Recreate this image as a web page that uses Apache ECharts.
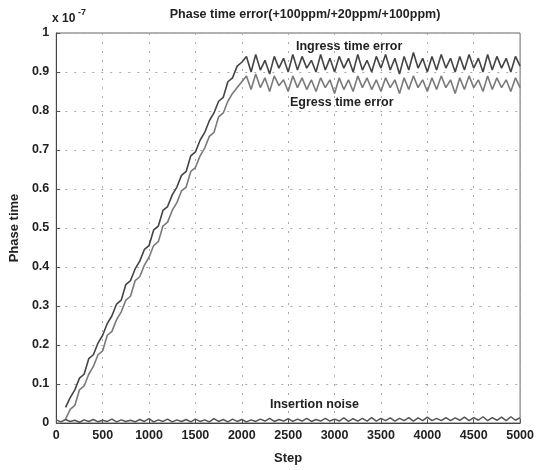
<!DOCTYPE html>
<html>
<head>
<meta charset="utf-8">
<script src="https://cdn.jsdelivr.net/npm/echarts@6/dist/echarts.min.js"></script>
<style>html,body{margin:0;padding:0;background:#fff}#c{width:537px;height:470px}</style>
</head>
<body>
<div id="c"></div>
<script>
// x positions: steps 0..5000 every 50
var stepStart = 0, stepSize = 50, stepCount = 101;
var xTicks = ['0','500','1000','1500','2000','2500','3000','3500','4000','4500','5000'];
var yTicks = ['0','0.1','0.2','0.3','0.4','0.5','0.6','0.7','0.8','0.9','1'];

var ingress = [null, null,
 0.04,0.065,0.085,0.115,0.125,0.165,0.175,0.205,0.225,0.255,
 0.275,0.305,0.315,0.355,0.365,0.395,0.415,0.445,0.455,0.495,
 0.505,0.545,0.555,0.585,0.605,0.635,0.645,0.685,0.695,0.725,
 0.745,0.775,0.795,0.825,0.835,0.875,0.885,0.915,0.925,
 0.94,0.90,0.945,0.905,0.93,0.895,0.94,0.91,0.935,0.90,
 0.945,0.905,0.94,0.91,0.93,0.90,0.945,0.905,0.935,0.90,
 0.94,0.91,0.935,0.90,0.945,0.905,0.93,0.90,0.94,0.91,
 0.945,0.905,0.935,0.895,0.94,0.905,0.95,0.91,0.935,0.90,
 0.94,0.905,0.945,0.91,0.935,0.90,0.94,0.905,0.945,0.91,
 0.935,0.90,0.945,0.905,0.94,0.91,0.935,0.90,0.94,0.915];

var egress = [null, null,
 0.01,0.035,0.045,0.085,0.095,0.125,0.145,0.175,0.185,0.225,
 0.235,0.265,0.285,0.315,0.325,0.365,0.375,0.405,0.425,0.455,
 0.465,0.505,0.515,0.545,0.565,0.595,0.605,0.645,0.655,0.685,
 0.705,0.735,0.745,0.785,0.795,0.825,0.845,0.86,0.875,
 0.89,0.855,0.895,0.86,0.885,0.85,0.89,0.865,0.88,0.85,
 0.89,0.86,0.885,0.855,0.88,0.85,0.885,0.86,0.88,0.845,
 0.885,0.855,0.88,0.85,0.89,0.86,0.885,0.855,0.88,0.85,
 0.885,0.86,0.88,0.845,0.885,0.855,0.89,0.86,0.88,0.85,
 0.885,0.855,0.89,0.86,0.88,0.845,0.885,0.855,0.89,0.86,
 0.88,0.85,0.89,0.855,0.885,0.86,0.88,0.85,0.885,0.86];

var noise = [
 0.008,0.003,0.009,0.004,0.007,0.002,0.008,0.004,0.009,0.003,
 0.007,0.004,0.010,0.003,0.008,0.004,0.007,0.003,0.009,0.004,
 0.011,0.003,0.008,0.004,0.010,0.003,0.008,0.004,0.009,0.003,
 0.010,0.004,0.008,0.003,0.011,0.004,0.009,0.003,0.010,0.004,
 0.009,0.003,0.008,0.004,0.010,0.005,0.012,0.004,0.009,0.005,
 0.011,0.004,0.010,0.005,0.012,0.004,0.009,0.005,0.012,0.005,
 0.010,0.005,0.013,0.004,0.011,0.005,0.012,0.005,0.014,0.005,
 0.012,0.006,0.013,0.005,0.012,0.006,0.014,0.005,0.013,0.006,
 0.015,0.006,0.012,0.006,0.014,0.006,0.013,0.007,0.015,0.006,
 0.014,0.007,0.016,0.006,0.014,0.007,0.015,0.006,0.016,0.007,
 0.014];

function pairs(arr){
  var out=[];
  for(var i=0;i<arr.length;i++){ if(arr[i]!==null) out.push([stepStart+i*stepSize, arr[i]]); }
  return out;
}

var chart = echarts.init(document.getElementById('c'));
var font = 'Liberation Sans, Arial, sans-serif';
chart.setOption({
  backgroundColor:'#fff',
  animation:false,
  title:{text:'Phase time error(+100ppm/+20ppm/+100ppm)', left:300, top:3, textAlign:'center',
    textStyle:{fontFamily:font, fontSize:12.5, fontWeight:'bold', color:'#222'}},
  grid:{left:54, right:16, top:33, bottom:47, show:true, borderColor:'#666', borderWidth:1},
  xAxis:{type:'value', min:0, max:5000, interval:500, name:'Step', nameLocation:'middle', nameGap:29,
    nameTextStyle:{fontFamily:font, fontSize:13, fontWeight:'bold', color:'#222'},
    axisLine:{lineStyle:{color:'#444'}}, axisTick:{inside:true, length:4, lineStyle:{color:'#555'}},
    axisLabel:{fontFamily:font, fontSize:12.5, fontWeight:'bold', color:'#222', margin:6,
      formatter:function(v){return xTicks[Math.round(v/500)];}},
    splitLine:{show:true, lineStyle:{color:'#aaa', type:[2,7], width:1}}},
  yAxis:{type:'value', min:0, max:1, interval:0.1, name:'Phase time', nameLocation:'middle', nameGap:31,
    nameTextStyle:{fontFamily:font, fontSize:13, fontWeight:'bold', color:'#222'},
    axisLine:{lineStyle:{color:'#444'}}, axisTick:{inside:true, length:4, lineStyle:{color:'#555'}},
    axisLabel:{fontFamily:font, fontSize:12.5, fontWeight:'bold', color:'#222', margin:7,
      formatter:function(v){return yTicks[Math.round(v*10)];}},
    splitLine:{show:true, lineStyle:{color:'#aaa', type:[2,7], width:1}}},
  graphic:[
    {type:'text', left:52, top:13, style:{text:'x 10', fontFamily:font, fontSize:12, fontWeight:'bold', fill:'#222'}},
    {type:'text', left:78, top:8, style:{text:'-7', fontFamily:font, fontSize:9, fontWeight:'bold', fill:'#222'}},
    {type:'text', left:296, top:40, style:{text:'Ingress time error', fontFamily:font, fontSize:12.5, fontWeight:'bold', fill:'#222'}},
    {type:'text', left:290, top:96, style:{text:'Egress time error', fontFamily:font, fontSize:12.5, fontWeight:'bold', fill:'#222'}},
    {type:'text', left:270, top:398, style:{text:'Insertion noise', fontFamily:font, fontSize:12.5, fontWeight:'bold', fill:'#222'}}
  ],
  series:[
    {type:'line', data:pairs(egress), symbol:'none', lineStyle:{color:'#7a7a7a', width:1.6}, z:2},
    {type:'line', data:pairs(ingress), symbol:'none', lineStyle:{color:'#444', width:1.6}, z:3},
    {type:'line', data:pairs(noise), symbol:'none', lineStyle:{color:'#555', width:1.5}, z:3}
  ]
});
</script>
</body>
</html>
